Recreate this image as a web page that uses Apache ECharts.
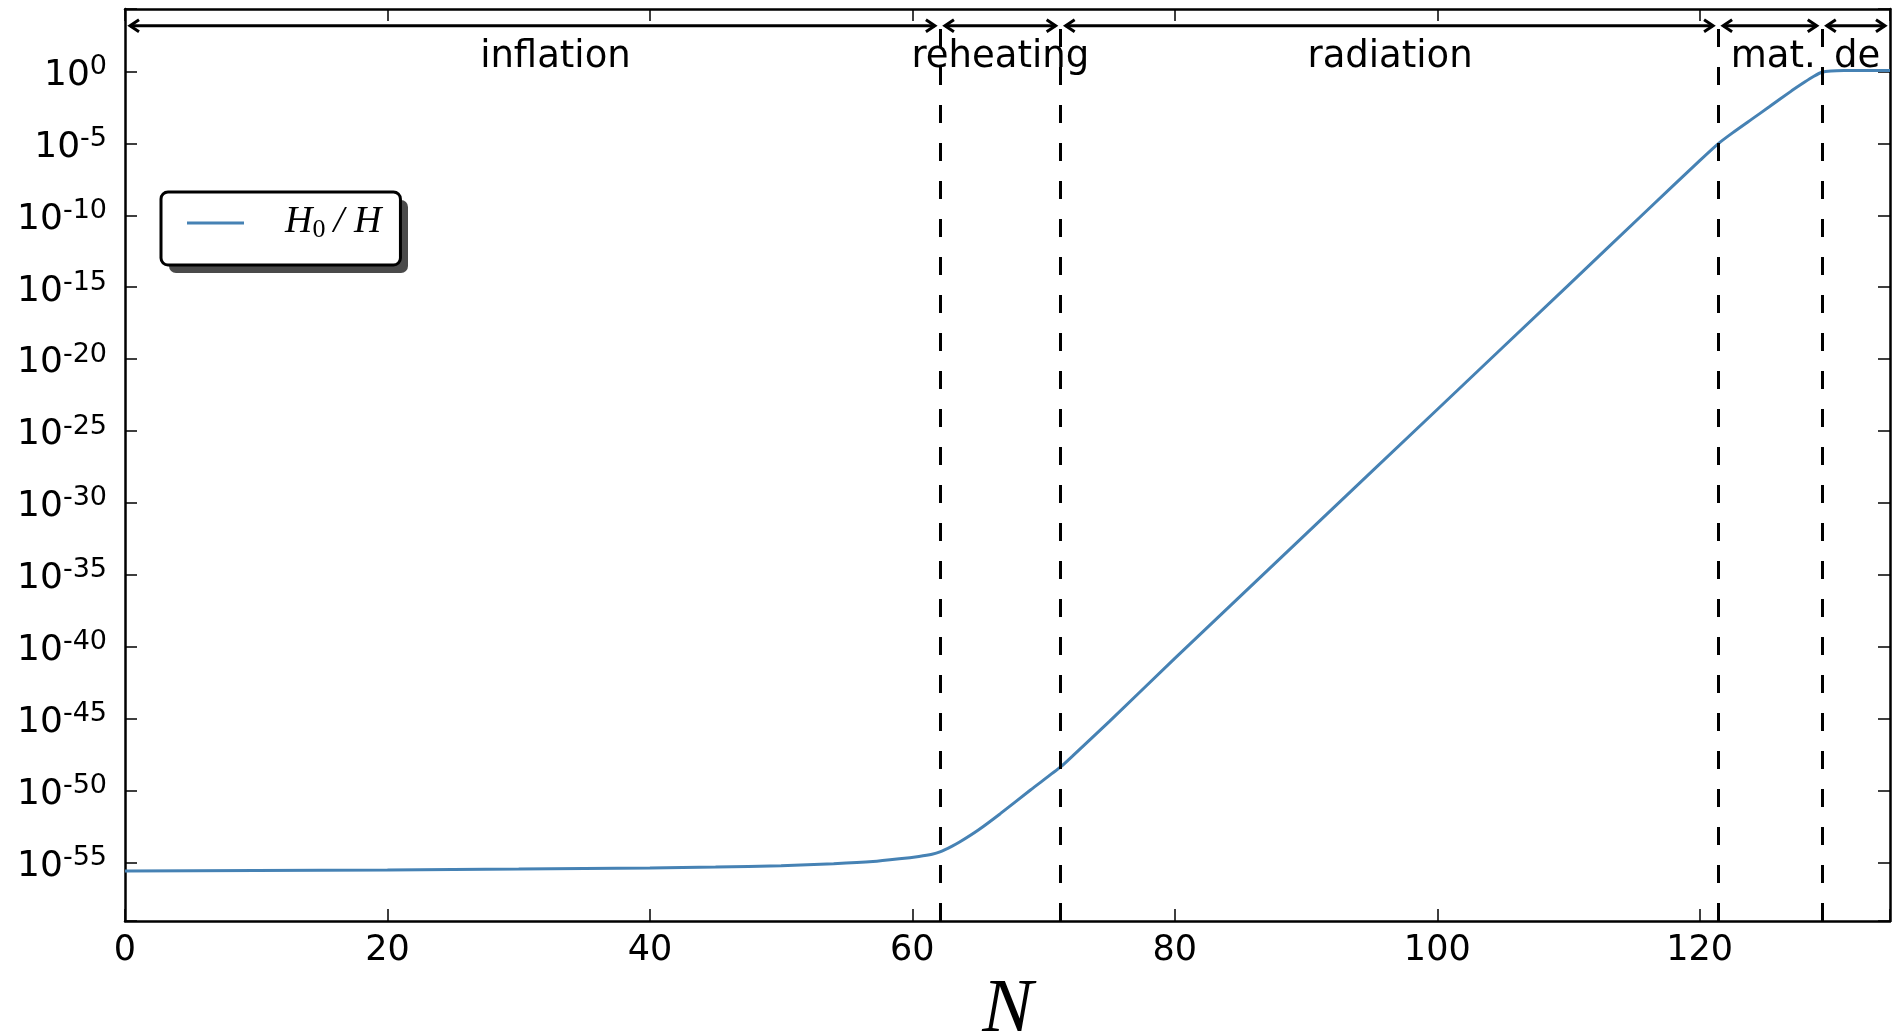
<!DOCTYPE html>
<html>
<head>
<meta charset="utf-8">
<title>H0/H against N</title>
<script src="https://cdn.jsdelivr.net/npm/echarts@6.0.0/dist/echarts.min.js"></script>
<style>
    html, body { margin: 0; padding: 0; background: #fff; }
    #main { width: 1899px; height: 1033px; }
</style>
</head>
<body>
<div id="main"></div>
<script>
// number of e-folds N and log10(H0/H)
var efolds = [0, 10, 20, 30, 40, 45, 50, 54, 57, 59, 60.5, 61.5, 62.1, 63, 63.6, 65, 66.7, 69, 71.3, 72.2,
    75, 80, 90, 100, 110, 116, 120, 121.4, 122.5, 124, 125.3, 127, 128, 128.7, 129.3, 130, 131, 134.5];
var logH0overH = [-55.58, -55.55, -55.51, -55.45, -55.37, -55.31, -55.22, -55.08, -54.93, -54.74, -54.57, -54.42, -54.26, -53.87, -53.57, -52.75, -51.6, -49.95, -48.35, -47.6,
    -45.2, -40.8, -32.15, -23.5, -14.85, -9.65, -6.2, -5.03, -4.27, -3.3, -2.46, -1.35, -0.74, -0.34, -0.06, 0.03, 0.06, 0.07];

// eras and the N where one ends and the next starts
var eraNames = ['inflation', 'reheating', 'radiation', 'mat.', 'de'];
var eraStart = [0, 62.1, 71.3, 121.4, 129.3];
var eraEnd = [62.1, 71.3, 121.4, 129.3, 134.5];
var eraLabelAt = [32.8, 66.7, 96.4, 125.6, 132.0];
var transitions = [62.1, 71.3, 121.4, 129.3];

// tick labels
var xTickValues = [0, 20, 40, 60, 80, 100, 120];
var yTickExponents = [0, -5, -10, -15, -20, -25, -30, -35, -40, -45, -50, -55];

var X_MIN = 0, X_MAX = 134.5;
var Y_MIN = -59.06, Y_MAX = 4.34;
var ARROW_Y = 3.18, DASH_TOP = 3.04, LABEL_Y = 0.98;

var font = 'DejaVu Sans';
var mathFont = 'Liberation Serif';

var lineData = efolds.map(function (n, i) { return [n, logH0overH[i]]; });
var eraData = eraStart.map(function (s, i) { return [s, eraEnd[i], eraLabelAt[i]]; });

var tickStyle = { show: true, inside: true, length: 12, lineStyle: { color: '#000', width: 1.5 } };
var frameLine = { show: true, onZero: false, lineStyle: { color: '#000', width: 2.5 } };

// legend box, its drop shadow is a plain rect behind it
var LEG_LEFT = 161, LEG_TOP = 192, LEG_W = 239, LEG_H = 73;

var myChart = echarts.init(document.getElementById('main'));

var option = {
    animation: false,
    backgroundColor: '#fff',
    grid: { left: 125, right: 9, top: 9, bottom: 112, containLabel: false, outerBoundsMode: 'none' },
    graphic: [{
        type: 'rect',
        left: LEG_LEFT + 8,
        top: LEG_TOP + 8,
        z: 5,
        shape: { width: LEG_W, height: LEG_H, r: 7 },
        style: { fill: '#4a4a4a' }
    }],
    legend: {
        data: ['H0/H'],
        left: LEG_LEFT,
        top: LEG_TOP,
        z: 10,
        icon: 'rect',
        itemWidth: 57,
        itemHeight: 3,
        selectedMode: false,
        padding: [2, 19, 22, 26],
        backgroundColor: '#fff',
        borderColor: '#000',
        borderWidth: 3,
        borderRadius: 7,
        formatter: function () {
            return '{h1|H}{z|0}{sl|/}{h|H}';
        },
        textStyle: {
            color: '#000',
            rich: {
                h1: { fontFamily: mathFont, fontStyle: 'italic', fontSize: 38, lineHeight: 40, verticalAlign: 'top', padding: [0, 0, 0, 36] },
                z: { fontFamily: mathFont, fontSize: 26, lineHeight: 26, verticalAlign: 'bottom', padding: [23, 0, 0, 0] },
                sl: { fontFamily: mathFont, fontStyle: 'italic', fontSize: 38, lineHeight: 40, verticalAlign: 'top', padding: [0, 0, 0, 8] },
                h: { fontFamily: mathFont, fontStyle: 'italic', fontSize: 38, lineHeight: 40, verticalAlign: 'top', padding: [0, 0, 0, 10] }
            }
        }
    },
    xAxis: [{
        type: 'value',
        position: 'bottom',
        min: X_MIN,
        max: X_MAX,
        interval: 20,
        name: 'N',
        nameLocation: 'middle',
        nameGap: 43,
        nameTextStyle: { fontFamily: mathFont, fontStyle: 'italic', fontSize: 76, color: '#000' },
        axisLine: frameLine,
        axisTick: tickStyle,
        splitLine: { show: false },
        axisLabel: {
            fontFamily: font,
            fontSize: 35,
            color: '#000',
            margin: 12,
            formatter: function (v) {
                return xTickValues.indexOf(v) >= 0 ? String(v) : '';
            }
        }
    }, {
        type: 'value',
        position: 'top',
        min: X_MIN,
        max: X_MAX,
        interval: 20,
        axisLine: frameLine,
        axisTick: tickStyle,
        splitLine: { show: false },
        axisLabel: { show: false }
    }],
    yAxis: [{
        type: 'value',
        position: 'left',
        min: Y_MIN,
        max: Y_MAX,
        splitNumber: 12,
        axisLine: frameLine,
        axisTick: tickStyle,
        splitLine: { show: false },
        axisLabel: {
            margin: 18,
            formatter: function (v) {
                var e = Math.round(v);
                if (Math.abs(v - e) > 1e-6 || yTickExponents.indexOf(e) < 0) return '';
                return '{b|10}{s|' + e + '}';
            },
            rich: {
                b: { fontFamily: font, fontSize: 36, lineHeight: 36, color: '#000', padding: [12, 0, 4, 0] },
                s: { fontFamily: font, fontSize: 27, lineHeight: 27, color: '#000', verticalAlign: 'top' }
            }
        }
    }, {
        type: 'value',
        position: 'right',
        min: Y_MIN,
        max: Y_MAX,
        splitNumber: 12,
        axisLine: frameLine,
        axisTick: tickStyle,
        splitLine: { show: false },
        axisLabel: { show: false }
    }],
    series: [{
        name: 'H0/H',
        type: 'line',
        data: lineData,
        showSymbol: false,
        symbol: 'none',
        smooth: 0.2,
        z: 3,
        lineStyle: { color: '#4682b4', width: 3 },
        itemStyle: { color: '#4682b4' },
        markLine: {
            silent: true,
            symbol: 'none',
            label: { show: false },
            lineStyle: { color: '#000', width: 3, type: [18, 20] },
            data: transitions.map(function (n) {
                return [{ coord: [n, Y_MIN] }, { coord: [n, DASH_TOP] }];
            })
        }
    }, {
        // double arrows with the era names above the curve
        name: 'eras',
        type: 'custom',
        data: eraData,
        clip: false,
        z: 4,
        renderItem: function (params, api) {
            var a = api.coord([api.value(0), ARROW_Y]);
            var b = api.coord([api.value(1), ARROW_Y]);
            var t = api.coord([api.value(2), LABEL_Y]);
            var x0 = a[0] + 5, x1 = b[0] - 5, y = a[1];
            var head = 9, half = 6;
            var st = { stroke: '#000', lineWidth: 3, fill: null };
            return {
                type: 'group',
                children: [
                    { type: 'line', shape: { x1: x0, y1: y, x2: x1, y2: y }, style: st },
                    { type: 'polyline', shape: { points: [[x0 + head, y - half], [x0, y], [x0 + head, y + half]] }, style: st },
                    { type: 'polyline', shape: { points: [[x1 - head, y - half], [x1, y], [x1 - head, y + half]] }, style: st },
                    {
                        type: 'text',
                        x: t[0],
                        y: t[1],
                        style: {
                            text: eraNames[params.dataIndex],
                            fontFamily: font,
                            fontSize: 37,
                            fill: '#000',
                            align: 'center',
                            verticalAlign: 'middle'
                        }
                    }
                ]
            };
        }
    }]
};

myChart.setOption(option);
</script>
</body>
</html>
